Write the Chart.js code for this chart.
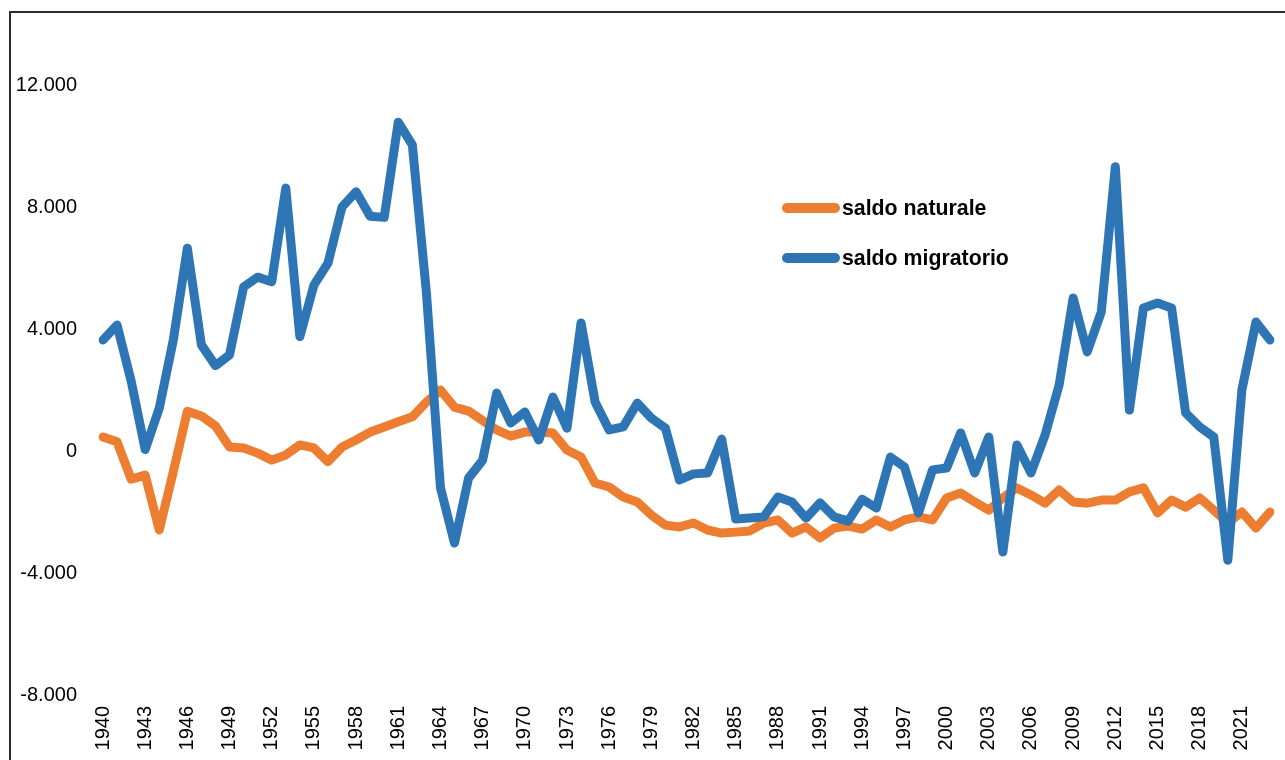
<!DOCTYPE html>
<html>
<head>
<meta charset="utf-8">
<script src="https://cdn.jsdelivr.net/npm/chart.js@4/dist/chart.umd.min.js"></script>
<style>
  html, body { margin: 0; padding: 0; background: #fff; }
  #wrap { position: relative; width: 1285px; height: 760px; overflow: hidden; }
  #frameTop { position: absolute; left: 9px; top: 11px; width: 1290px; height: 0; border-top: 2px solid #2b2b2b; }
  #frameLeft { position: absolute; left: 9px; top: 11px; width: 0; height: 760px; border-left: 2px solid #2b2b2b; }
  canvas { position: absolute; left: 0; top: 0; }
  #legend { position: absolute; left: 777px; top: 193px; font-family: "Liberation Sans", Arial, sans-serif; font-weight: bold; font-size: 21.3px; color: #000; }
  .item { display: flex; align-items: center; height: 30px; margin-bottom: 20px; }
  .sw { width: 58px; height: 10px; border-radius: 5px; margin-left: 5px; margin-right: 2px; }
</style>
</head>
<body>
<div id="wrap">
  <canvas id="c" width="1285" height="760"></canvas>
  <div id="frameTop"></div>
  <div id="frameLeft"></div>
  <div id="legend"></div>
</div>
<script>
const years = [];
for (let y = 1940; y <= 2023; y++) years.push(String(y));

const saldoNaturale = [
  460, 300, -920, -790, -2590, -680, 1300, 1150, 820, 130,
  100, -70, -300, -130, 200, 100, -350, 130, 360, 620,
  790, 960, 1120, 1600, 2000, 1440, 1310, 1000, 690, 490,
  620, 620, 590, 30, -200, -1050, -1180, -1510, -1670, -2100,
  -2430, -2490, -2360, -2590, -2690, -2660, -2620, -2360, -2260, -2690,
  -2490, -2850, -2530, -2460, -2560, -2260, -2490, -2260, -2160, -2260,
  -1540, -1380, -1670, -1940, -1540, -1210, -1440, -1710, -1280, -1670,
  -1710, -1610, -1610, -1340, -1210, -2030, -1610, -1840, -1540, -1940,
  -2360, -2000, -2530, -2000
];

const saldoMigratorio = [
  3640, 4130, 2300, 50, 1400, 3640, 6650, 3480, 2800, 3150,
  5380, 5700, 5550, 8620, 3750, 5440, 6160, 8000, 8500, 7700,
  7660, 10780, 10040, 5200, -1200, -3020, -890, -300, 1900, 920,
  1280, 360, 1770, 750, 4200, 1610, 690, 790, 1570, 1080,
  750, -950, -750, -720, 390, -2230, -2200, -2160, -1510, -1670,
  -2200, -1700, -2160, -2300, -1580, -1870, -200, -520, -2030, -620,
  -560, 590, -720, 460, -3310, 200, -720, 520, 2160, 5020,
  3250, 4560, 9320, 1340, 4690, 4850, 4690, 1250, 790, 460,
  -3580, 2000, 4230, 3640
];

const yTickValues = [-8000, -4000, 0, 4000, 8000, 12000];

const seriesNames = ["saldo naturale", "saldo migratorio"];
const seriesColors = ["#ED7D31", "#2E75B6"];

const yMin = -8000, yMax = 14000;

function fmt(v) {
  const s = Math.abs(v).toFixed(0).replace(/\B(?=(\d{3})+(?!\d))/g, ".");
  return (v < 0 ? "-" : "") + s;
}

const FONT = "'Liberation Sans', Arial, sans-serif";

const chart = new Chart(document.getElementById("c"), {
  type: "line",
  data: {
    labels: years,
    datasets: [
      { label: seriesNames[0], data: saldoNaturale, borderColor: seriesColors[0], backgroundColor: seriesColors[0], order: 1 },
      { label: seriesNames[1], data: saldoMigratorio, borderColor: seriesColors[1], backgroundColor: seriesColors[1], order: 0 }
    ]
  },
  options: {
    responsive: false,
    animation: false,
    devicePixelRatio: 1,
    layout: { padding: { left: 0, right: 15, top: 24, bottom: 0 } },
    elements: {
      line: { borderWidth: 9, tension: 0, borderJoinStyle: "round", borderCapStyle: "round", fill: false },
      point: { radius: 0, hoverRadius: 0 }
    },
    plugins: { legend: { display: false }, tooltip: { enabled: false } },
    scales: {
      x: {
        type: "category",
        offset: false,
        grid: { display: false, drawTicks: false },
        border: { display: false },
        afterFit: (scale) => { scale.height = 65; scale.paddingLeft = 0; scale.paddingRight = 0; },
        ticks: {
          autoSkip: false,
          maxRotation: 90,
          minRotation: 90,
          padding: 11,
          color: "#000",
          font: { family: FONT, size: 20 },
          callback: function (val, idx) { return idx % 3 === 0 ? this.getLabelForValue(val) : ""; }
        }
      },
      y: {
        min: yMin,
        max: yMax,
        grid: { display: false, drawTicks: false },
        border: { display: false },
        afterBuildTicks: (scale) => { scale.ticks = yTickValues.map(v => ({ value: v })); },
        afterFit: (scale) => { scale.width = 103; scale.paddingTop = 0; scale.paddingBottom = 0; },
        ticks: {
          autoSkip: false,
          padding: 26,
          color: "#000",
          font: { family: FONT, size: 20 },
          callback: (v) => fmt(v)
        }
      }
    }
  }
});

// HTML legend built from the datasets
const legend = document.getElementById("legend");
chart.data.datasets.forEach(ds => {
  const it = document.createElement("div");
  it.className = "item";
  const sw = document.createElement("div");
  sw.className = "sw";
  sw.style.background = ds.borderColor;
  const tx = document.createElement("span");
  tx.textContent = ds.label;
  it.appendChild(sw);
  it.appendChild(tx);
  legend.appendChild(it);
});
</script>
</body>
</html>
